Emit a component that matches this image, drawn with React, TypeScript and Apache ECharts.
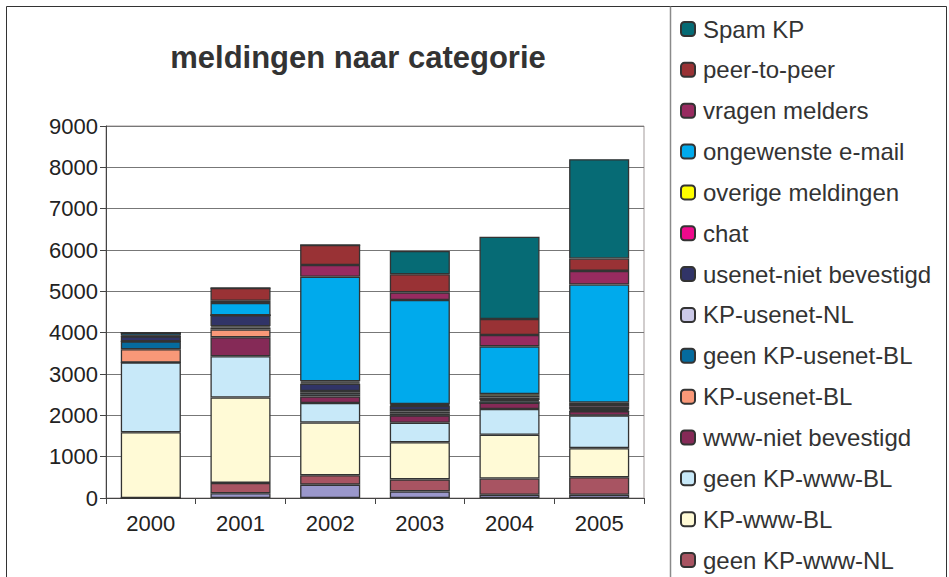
import React, { useEffect, useRef } from "react";
import * as echarts from "echarts";

const years = ["2000", "2001", "2002", "2003", "2004", "2005"];
const yTicks = { min: 0, max: 9000, interval: 1000 };

const kpWwwNL = [0, 115, 323, 160, 80, 80];
const geenKpWwwNL = [0, 250, 227, 290, 390, 422];
const kpWwwBL = [1590, 2068, 1277, 900, 1060, 704];
const geenKpWwwBL = [1690, 995, 470, 470, 623, 791];
const wwwNiet = [0, 461, 160, 180, 150, 100];
const kpUsenetBL = [320, 187, 40, 50, 0, 0];
const geenKpUsenetBL = [190, 50, 50, 40, 40, 30];
const kpUsenetNL = [0, 30, 40, 40, 30, 20];
const usenetNiet = [120, 265, 180, 100, 60, 60];
const chat = [0, 0, 25, 20, 40, 40];
const overige = [20, 0, 30, 20, 40, 60];
const ongewenste = [70, 295, 2532, 2520, 1156, 2857];
const vragen = [0, 55, 282, 185, 274, 330];
const p2p = [0, 310, 485, 440, 388, 300];
const spamKP = [0, 0, 0, 560, 1990, 2403];

// stacking order bottom -> top
const seriesDefs = [
  { name: "KP-www-NL", data: kpWwwNL, color: "#9a97cb", inLegend: false },
  { name: "geen KP-www-NL", data: geenKpWwwNL, color: "#a85462", inLegend: true },
  { name: "KP-www-BL", data: kpWwwBL, color: "#fffad6", inLegend: true },
  { name: "geen KP-www-BL", data: geenKpWwwBL, color: "#c8e9f9", inLegend: true },
  { name: "www-niet bevestigd", data: wwwNiet, color: "#852a57", inLegend: true },
  { name: "KP-usenet-BL", data: kpUsenetBL, color: "#f99878", inLegend: true },
  { name: "geen KP-usenet-BL", data: geenKpUsenetBL, color: "#056b9e", inLegend: true },
  { name: "KP-usenet-NL", data: kpUsenetNL, color: "#cbc9e8", inLegend: true },
  { name: "usenet-niet bevestigd", data: usenetNiet, color: "#313467", inLegend: true },
  { name: "chat", data: chat, color: "#ee0a8c", inLegend: true },
  { name: "overige meldingen", data: overige, color: "#ffff00", inLegend: true },
  { name: "ongewenste e-mail", data: ongewenste, color: "#00aaec", inLegend: true },
  { name: "vragen melders", data: vragen, color: "#982b60", inLegend: true },
  { name: "peer-to-peer", data: p2p, color: "#993235", inLegend: true },
  { name: "Spam KP", data: spamKP, color: "#066b75", inLegend: true },
];

const FONT = "'Liberation Sans', Arial, sans-serif";

export default function App() {
  const ref = useRef<HTMLDivElement>(null);
  useEffect(() => {
    if (!ref.current) return;
    const chart = echarts.init(ref.current, undefined, { renderer: "svg" });
    chart.setOption({
      animation: false,
      backgroundColor: "#ffffff",
      textStyle: { fontFamily: FONT },
      graphic: [
        {
          type: "rect",
          z: -10,
          shape: { x: 6.5, y: 6.5, width: 940, height: 700 },
          style: { fill: "none", stroke: "#333", lineWidth: 1 },
        },
        {
          type: "line",
          z: -10,
          shape: { x1: 670.5, y1: 6.5, x2: 670.5, y2: 700 },
          style: { stroke: "#8a8a8a", lineWidth: 1.5 },
        },
        {
          type: "text",
          x: 358,
          y: 57,
          style: {
            text: "meldingen naar categorie",
            fontFamily: FONT,
            fontSize: 31,
            fontWeight: "bold",
            fill: "#333",
            textAlign: "center",
            textVerticalAlign: "middle",
          },
        },
      ],
      legend: {
        orient: "vertical",
        left: 680,
        top: 17,
        padding: 0,
        itemWidth: 14,
        itemHeight: 14,
        itemGap: 16.85,
        data: seriesDefs.filter((s) => s.inLegend).map((s) => s.name).reverse(),
        textStyle: { fontSize: 24, color: "#333", fontFamily: FONT, lineHeight: 24, padding: [0, 0, 0, 3] },
      },
      grid: {
        left: 106,
        top: 126,
        width: 538,
        height: 372,
        show: true,
        borderColor: "#a39b9b",
        borderWidth: 1,
        backgroundColor: "#fff",
      },
      xAxis: {
        type: "category",
        data: years,
        axisLine: { show: true, lineStyle: { color: "#444", width: 1 } },
        axisTick: { show: true, alignWithLabel: false, length: 6, interval: 0, lineStyle: { color: "#444" } },
        axisLabel: { fontSize: 22, color: "#222", margin: 14, fontFamily: FONT },
      },
      yAxis: {
        type: "value",
        min: yTicks.min,
        max: yTicks.max,
        interval: yTicks.interval,
        axisLine: { show: true, lineStyle: { color: "#444", width: 1 } },
        axisTick: { show: true, length: 6, lineStyle: { color: "#444" } },
        axisLabel: { fontSize: 22, color: "#222", margin: 8, fontFamily: FONT, formatter: (v: number) => String(v) },
        splitLine: { show: true, lineStyle: { color: "#777", width: 1 } },
      },
      series: seriesDefs.map((s) => ({
        name: s.name,
        type: "bar",
        stack: "total",
        barWidth: "67%",
        data: s.data,
        itemStyle: { color: s.color, borderColor: "#333", borderWidth: 1.3 },
      })),
    });
    return () => chart.dispose();
  }, []);
  return (
    <div style={{ position: "fixed", left: 0, top: 0, width: 949, height: 577, overflow: "hidden", background: "#fff" }}>
      <div ref={ref} style={{ width: 949, height: 640 }} />
    </div>
  );
}
